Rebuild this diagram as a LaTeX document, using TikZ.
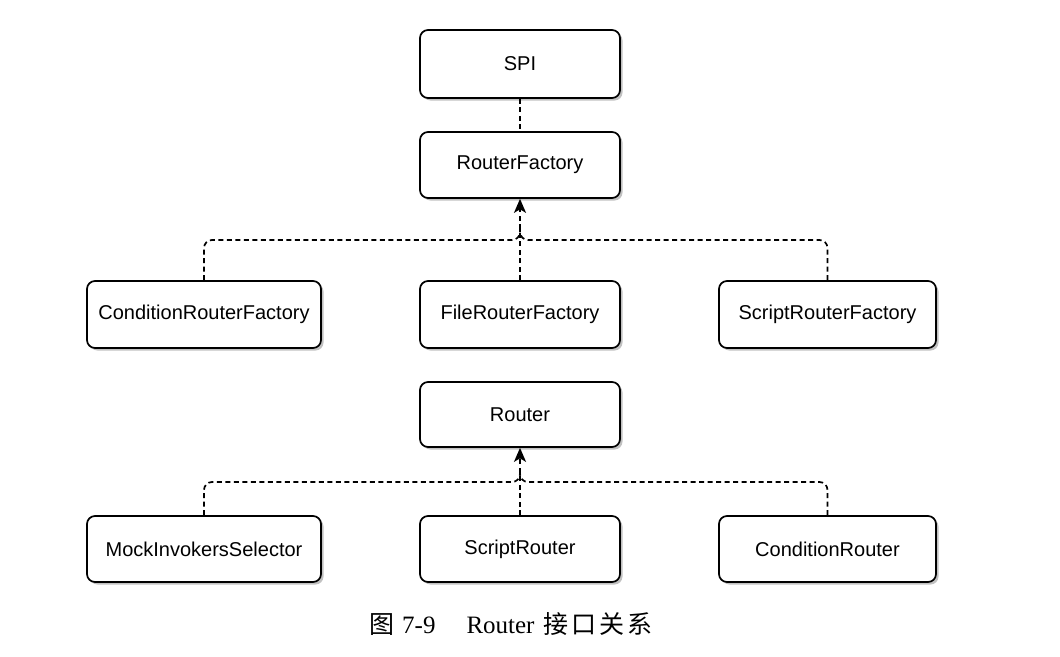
\documentclass[tikz,border=0pt]{standalone}
\usepackage{fontspec}
\setmainfont{Liberation Serif}
\setsansfont{Liberation Sans}
\newfontfamily\cjk{Noto Sans CJK SC}
\usetikzlibrary{arrows.meta,shadows}
\tikzset{
  umlbox/.style={draw=black, fill=white, rounded corners=8pt, line width=1.7pt,
    inner sep=0pt, minimum height=66pt,
    font=\sffamily\fontsize{20}{24}\selectfont,
    drop shadow={shadow xshift=2.5pt, shadow yshift=-2.5pt, fill=black!40, opacity=0.6}},
  dep/.style={draw=black, line width=1.7pt, dash pattern=on 5pt off 3.5pt},
  deparrow/.style={dep, -{Stealth[length=14pt,width=12pt,inset=3.5pt]}},
  joinline/.style={dep, rounded corners=8pt},
}
\begin{document}
\begin{tikzpicture}[x=1pt,y=-1pt]
\useasboundingbox[fill=white] (0,0) rectangle (1060,656);

\node[umlbox, minimum width=200pt, minimum height=68pt] (spi) at (520,64) {SPI};
\node[umlbox, minimum width=200pt] (rf) at (520,165) {RouterFactory};
\node[umlbox, minimum width=234pt, minimum height=67pt] (crf) at (204,314.5) {ConditionRouterFactory};
\node[umlbox, minimum width=200pt, minimum height=67pt] (frf) at (520,314.5) {FileRouterFactory};
\node[umlbox, minimum width=217pt, minimum height=67pt] (srf) at (827.5,314.5) {ScriptRouterFactory};

\node[umlbox, minimum width=200pt, minimum height=65pt] (router) at (520,414.5) {Router};
\node[umlbox, minimum width=234pt] (mis) at (204,549) {MockInvokersSelector};
\node[umlbox, minimum width=200pt] (sr) at (520,549) {ScriptRouter};
\node[umlbox, minimum width=217pt] (cr) at (827.5,549) {ConditionRouter};

\coordinate (j1) at (520,240);
\coordinate (j1u) at (520,226);
\coordinate (j2) at (520,482);
\coordinate (j2u) at (520,468);

\draw[dep] (spi.south) -- (rf.north);

\draw[deparrow] (frf.north) -- (rf.south);
\draw[joinline] (crf.north) |- (j1) -- (j1u);
\draw[joinline] (srf.north) |- (j1) -- (j1u);

\draw[deparrow] (sr.north) -- (router.south);
\draw[joinline] (mis.north) |- (j2) -- (j2u);
\draw[joinline] (cr.north) |- (j2) -- (j2u);

\node[font=\fontsize{25}{28}\selectfont, inner sep=0pt, anchor=west] (cap) at (369,624)
  {{\cjk 图}\hspace{8pt}7-9\hspace{31pt}Router\hspace{9pt}{\cjk 接\hspace{3pt}口\hspace{3pt}关\hspace{3pt}系}};
\end{tikzpicture}
\end{document}
